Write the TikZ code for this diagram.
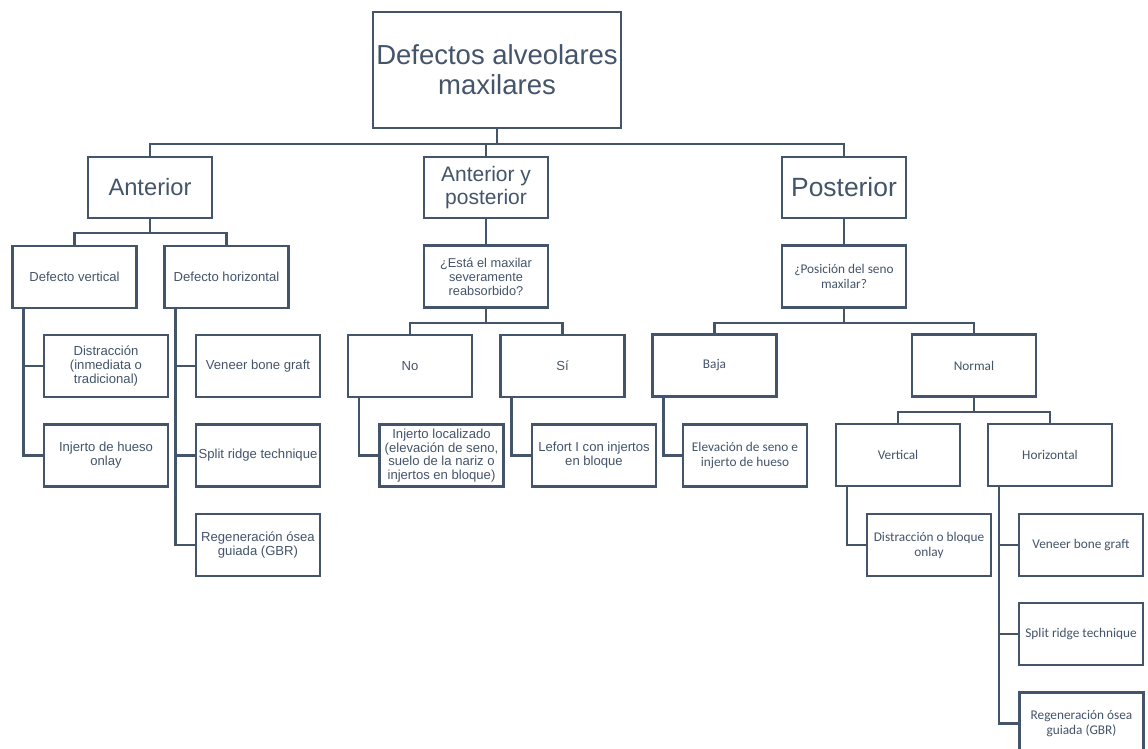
\documentclass[tikz,border=0pt]{standalone}
\usepackage{fontspec}
\setmainfont{Liberation Sans}
\newfontfamily\carlfont{Carlito}
\usetikzlibrary{calc}
\definecolor{slate}{HTML}{44546A}
\begin{document}
\begin{tikzpicture}[x=1pt,y=-1pt,
  box/.style={draw=slate, line width=2.4pt, text=slate, align=center, inner sep=0pt,
    minimum width=124pt, minimum height=62pt, font={\fontsize{13.1}{14}\selectfont}},
  cbox/.style={box, font={\carlfont\fontsize{13.3}{15}\selectfont}},
  link/.style={draw=slate, line width=2.4pt}]
\useasboundingbox (0,0) rectangle (1148,749);
\clip (0,0) rectangle (1148,749);
\fill[white] (0,0) rectangle (1148,749);

% root and level 1
\node[box, minimum width=248pt, minimum height=116pt, font={\fontsize{27.5}{30}\selectfont}] (root) at (497,70) {Defectos alveolares\\maxilares};
\node[box, minimum height=61pt, font={\fontsize{23.7}{26}\selectfont}] (ant) at (150,187.5) {Anterior};
\node[box, minimum height=61pt, font={\fontsize{21}{23}\selectfont}] (antpos) at (486,187.5) {Anterior y\\posterior};
\node[box, minimum height=61pt, font={\fontsize{26.4}{29}\selectfont}] (post) at (844,187.5) {Posterior};

% level 2
\node[box] (dv) at (74.5,277) {Defecto vertical};
\node[box] (dh) at (226.5,277) {Defecto horizontal};
\node[box, font={\fontsize{12.8}{14}\selectfont}] (q1) at (486,276.5) {¿Está el maxilar\\severamente\\reabsorbido?};
\node[cbox] (q2) at (844,276.5) {¿Posición del seno\\maxilar?};

% level 3
\node[box] (dist) at (106,366) {Distracción\\(inmediata o\\tradicional)};
\node[box] (onlay) at (106,455.5) {Injerto de hueso\\onlay};
\node[box] (venL) at (258,366) {Veneer bone graft};
\node[box] (splL) at (258,455.5) {Split ridge technique};
\node[box] (regL) at (258,545) {Regeneración ósea\\guiada (GBR)};
\node[box] (no) at (410,366) {No};
\node[box] (si) at (562.5,366) {Sí};
\node[cbox] (baja) at (714.5,365.5) {\raisebox{-1.5pt}{Baja}};
\node[cbox] (normal) at (974,365.5) {Normal};

% level 4
\node[box, font={\fontsize{13.1}{13.6}\selectfont}] (loc) at (441.5,455.5) {Injerto localizado\\(elevación de seno,\\suelo de la nariz o\\injertos en bloque)};
\node[box] (lefort) at (594,455.5) {Lefort I con injertos\\en bloque};
\node[cbox] (elev) at (745,455.5) {Elevación de seno e\\injerto de hueso};
\node[cbox] (vert) at (898,455) {Vertical};
\node[cbox] (horiz) at (1050,455) {Horizontal};

% level 5
\node[cbox] (distR) at (929,545) {Distracción o bloque\\onlay};
\node[cbox] (venR) at (1081,545) {Veneer bone graft};
\node[cbox] (splR) at (1081,634) {Split ridge technique};
\node[cbox] (regR) at (1081.5,723.5) {Regeneración ósea\\guiada (GBR)};

% bus connectors
\draw[link] (root.south) -- ++(0,15) -| (ant.north);
\draw[link] (root.south) -- ++(0,15) -| (antpos.north);
\draw[link] (root.south) -- ++(0,15) -| (post.north);
\draw[link] (ant.south) -- ++(0,14) -| (dv.north);
\draw[link] (ant.south) -- ++(0,14) -| (dh.north);
\draw[link] (antpos.south) -- (q1.north);
\draw[link] (post.south) -- (q2.north);
\draw[link] (q1.south) -- ++(0,14.5) -| (no.north);
\draw[link] (q1.south) -- ++(0,14.5) -| (si.north);
\draw[link] (q2.south) -- ++(0,14) -| (baja.north);
\draw[link] (q2.south) -- ++(0,14) -| (normal.north);
\draw[link] (normal.south) -- ++(0,14) -| (vert.north);
\draw[link] (normal.south) -- ++(0,14) -| (horiz.north);

% side connectors
\draw[link] ($(dv.south west)+(12,0)$) |- (dist.west);
\draw[link] ($(dv.south west)+(12,0)$) |- (onlay.west);
\draw[link] ($(dh.south west)+(12,0)$) |- (venL.west);
\draw[link] ($(dh.south west)+(12,0)$) |- (splL.west);
\draw[link] ($(dh.south west)+(12,0)$) |- (regL.west);
\draw[link] ($(no.south west)+(12,0)$) |- (loc.west);
\draw[link] ($(si.south west)+(12,0)$) |- (lefort.west);
\draw[link] ($(baja.south west)+(12,0)$) |- (elev.west);
\draw[link] ($(vert.south west)+(12,0)$) |- (distR.west);
\draw[link] ($(horiz.south west)+(12,0)$) |- (venR.west);
\draw[link] ($(horiz.south west)+(12,0)$) |- (splR.west);
\draw[link] ($(horiz.south west)+(12,0)$) |- (regR.west);
\end{tikzpicture}
\end{document}
